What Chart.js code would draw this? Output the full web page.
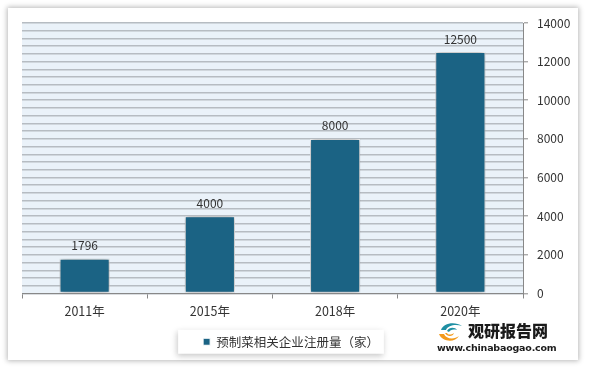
<!DOCTYPE html>
<html>
<head>
<meta charset="utf-8">
<script src="https://cdn.jsdelivr.net/npm/chart.js@4.4.1/dist/chart.umd.min.js"></script>
<style>
    body { margin: 0; background: #fff; }
    #frame { position: absolute; left: 8px; top: 8px; width: 570px; height: 352px; background: #fff; box-shadow: 0 0 5px 1px rgba(0,0,0,0.28); }
    #wrap { position: absolute; left: 0; top: 0; width: 590px; height: 370px; }
    #logo { position: absolute; left: 437px; top: 320px; width: 115px; height: 34px; font-family: "Noto Sans CJK SC", sans-serif; color: #1a1a1a; }
    #logo svg { position: absolute; left: 0; top: 1px; }
    #logo .name { position: absolute; left: 31px; top: -2px; font-size: 16px; font-weight: 900; letter-spacing: 0px; }
    #logo .url { position: absolute; left: 0; top: 22px; font-size: 9.5px; font-weight: 700; font-family: "DejaVu Sans", sans-serif; letter-spacing: -0.2px; }
</style>
</head>
<body>
<div id="frame"></div>
<div id="wrap"><canvas id="chart" width="590" height="370"></canvas></div>
<div id="logo">
    <svg width="28" height="22" viewBox="0 0 28 22">
        <path d="M4 9 C6 2, 18 0, 25 5 C19 3, 11 4, 9 9 Z" fill="#1f8fa3"/>
        <path d="M10 10 C12 6, 18 6, 20 9 C16 8, 13 9, 12 11 Z" fill="#1f8fa3"/>
        <path d="M2 13 C5 21, 18 22, 22 15 C17 19, 9 18, 7 13 Z" fill="#f39a1c"/>
        <path d="M8 12 C10 16, 16 16, 17 12 C14 14, 11 14, 10 12 Z" fill="#f39a1c"/>
    </svg>
    <div class="name">观研报告网</div>
    <div class="url">www.chinabaogao.com</div>
</div>
<script>
document.addEventListener('DOMContentLoaded', function() {
    const years = ['2011年', '2015年', '2018年', '2020年'];
    const registrations = [1796, 4000, 8000, 12500];
    const seriesName = '预制菜相关企业注册量（家）';
    const yTicks = [0, 2000, 4000, 6000, 8000, 10000, 12000, 14000];

    const fontFamily = '"Noto Sans CJK SC", "Noto Sans", sans-serif';

    // light blue plot background + shadow box behind the legend
    const backdrop = {
        id: 'backdrop',
        afterLayout(chart) {
            // legend sits a bit left of centre in the original
            chart.legend.left -= 15;
            chart.legend.right -= 15;
        },
        beforeDraw(chart) {
            const ctx = chart.ctx;
            const a = chart.chartArea;
            ctx.save();
            ctx.fillStyle = '#eaf2f9';
            ctx.fillRect(a.left, a.top, a.right - a.left, a.bottom - a.top);

            const hit = chart.legend.legendHitBoxes[0];
            if (hit) {
                const x0 = hit.left - 25;
                const x1 = hit.left + hit.width + 5;
                const y0 = hit.top + hit.height / 2 - 12;
                ctx.shadowColor = 'rgba(0,0,0,0.22)';
                ctx.shadowBlur = 6;
                ctx.shadowOffsetX = -1;
                ctx.shadowOffsetY = 2;
                ctx.fillStyle = '#fff';
                ctx.fillRect(x0, y0, x1 - x0, 24);
            }
            ctx.restore();
        }
    };

    const barShadow = {
        id: 'barShadow',
        beforeDatasetsDraw(chart) {
            const ctx = chart.ctx;
            ctx.save();
            ctx.shadowColor = 'rgba(0,0,0,0.45)';
            ctx.shadowBlur = 6;
        },
        afterDatasetsDraw(chart) {
            const ctx = chart.ctx;
            ctx.restore();
            // value labels above bars
            ctx.save();
            ctx.font = '12px ' + fontFamily;
            ctx.fillStyle = '#333';
            ctx.textAlign = 'center';
            ctx.textBaseline = 'middle';
            chart.getDatasetMeta(0).data.forEach(function(bar, i) {
                ctx.fillText(String(registrations[i]), bar.x, bar.y - 13);
            });
            ctx.restore();
        }
    };

    const ctx = document.getElementById('chart').getContext('2d');
    new Chart(ctx, {
        type: 'bar',
        data: {
            labels: years,
            datasets: [{
                label: seriesName,
                data: registrations,
                backgroundColor: '#1b6384',
                borderColor: '#ffffff',
                borderWidth: 1,
                borderSkipped: false,
                categoryPercentage: 1,
                barPercentage: 0.4
            }]
        },
        options: {
            responsive: false,
            animation: false,
            layout: {
                padding: { left: 22, right: 0, top: 23, bottom: 12 }
            },
            scales: {
                x: {
                    grid: {
                        drawOnChartArea: false,
                        offset: true,
                        tickLength: 5,
                        color: '#888'
                    },
                    border: { color: '#888' },
                    ticks: {
                        color: '#333',
                        padding: 5,
                        font: { family: fontFamily, size: 12.5 }
                    },
                    afterFit(scale) { scale.height = 36; }
                },
                y: {
                    position: 'right',
                    min: 0,
                    max: 14000,
                    grid: {
                        color: '#b6bcc2',
                        lineWidth: 1.6,
                        tickLength: 5,
                        tickColor: function(c) {
                            return yTicks.includes(c.tick.value) ? '#888' : 'rgba(0,0,0,0)';
                        },
                        tickWidth: 1
                    },
                    border: { color: '#888' },
                    ticks: {
                        stepSize: 400,
                        autoSkip: false,
                        color: '#333',
                        padding: 9,
                        font: { family: fontFamily, size: 12 },
                        callback: function(v) {
                            return yTicks.includes(v) ? String(v) : '';
                        }
                    },
                    afterFit(scale) { scale.width = 67; }
                }
            },
            plugins: {
                legend: {
                    position: 'bottom',
                    labels: {
                        boxWidth: 7,
                        boxHeight: 7,
                        padding: 6,
                        color: '#333',
                        font: { family: fontFamily, size: 12.5 }
                    }
                },
                tooltip: { enabled: false }
            }
        },
        plugins: [backdrop, barShadow]
    });
});
</script>
</body>
</html>
